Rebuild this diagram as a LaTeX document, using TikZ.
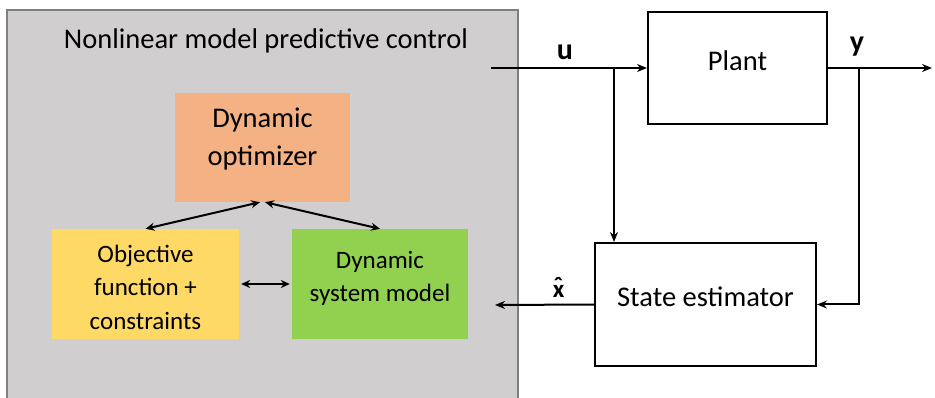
\documentclass[tikz,border=0pt]{standalone}
\usepackage{fontspec}
\setmainfont{Carlito}
\usetikzlibrary{arrows.meta,calc}
\definecolor{grayfill}{HTML}{D0CECE}
\definecolor{grayline}{HTML}{7F7F7F}
\definecolor{orangefill}{HTML}{F4B183}
\definecolor{yellowfill}{HTML}{FFD966}
\definecolor{greenfill}{HTML}{92D050}
\tikzset{
  colbox/.style={rectangle, inner sep=0pt, align=center, draw=none},
  blackbox/.style={rectangle, draw=black, line width=2pt, inner sep=0pt},
  conn/.style={line width=2pt, -{Stealth[length=10pt,width=8pt]}},
  conninner/.style={line width=2pt, {Stealth[length=9pt,width=8pt]}-{Stealth[length=9pt,width=8pt]}},
  bigtext/.style={font=\fontsize{28.5}{38}\selectfont},
  smalltext/.style={font=\fontsize{25}{33.5}\selectfont},
  sig/.style={font=\fontsize{30}{32}\selectfont\bfseries, inner sep=0pt},
  sigsmall/.style={font=\fontsize{25}{27}\selectfont\bfseries, inner sep=0pt},
}
\begin{document}
\begin{tikzpicture}[x=1pt,y=-1pt]
\useasboundingbox (0,0) rectangle (935,398);
% NMPC container
\draw[fill=grayfill, draw=grayline, line width=1.5pt] (7,10) rectangle (518,410);
\node[bigtext, inner sep=0pt] (title) at (266,41) {Nonlinear model predictive control};
% inner boxes
\node[colbox, fill=orangefill, minimum width=175pt, minimum height=109pt] (opt) at (262.5,147.5) {};
\node[bigtext, align=center, inner sep=0pt] (opttext) at (262.5,139) {Dynamic\\optimizer};
\node[colbox, fill=yellowfill, minimum width=187pt, minimum height=110pt] (obj) at (145.5,284) {};
\node[smalltext, align=center, inner sep=0pt] (objtext) at (145.5,287) {Objective\\function +\\constraints};
\node[colbox, fill=greenfill, minimum width=176pt, minimum height=110pt] (sys) at (380,284) {};
\node[smalltext, align=center, inner sep=0pt] (systext) at (380,278.5) {Dynamic\\system model};
% inner connectors
\draw[conninner] ([xshift=-2.5pt]opt.south) -- (obj.north);
\draw[conninner] ([xshift=2.5pt]opt.south) -- (sys.north);
\draw[conninner] ([xshift=2pt]obj.east) -- ([xshift=-2pt]sys.west);
% plant and estimator
\node[blackbox, minimum width=179pt, minimum height=112pt] (plant) at (737.5,68) {};
\node[bigtext, inner sep=0pt] (planttext) at (737.5,61) {Plant};
\node[blackbox, minimum width=221pt, minimum height=123pt] (est) at (705.5,304.5) {};
\node[bigtext, inner sep=0pt] (esttext) at (705.5,297) {State estimator};
% signals
\coordinate (uin) at (491,68);
\coordinate (ub) at (614,68);
\coordinate (yb) at (859,68);
\coordinate (yout) at (932,68);
\coordinate (xout) at (495,305);
\draw[conn] (uin) -- (plant.west);
\draw[conn] (ub) -- (ub |- est.north);
\draw[conn] (plant.east) -- (yout);
\draw[conn] (yb) |- (est.east);
\draw[conn] (est.west) -- (xout);
\node[sig, anchor=base] (ulab) at (565,60) {u};
\node[sig, anchor=base] (ylab) at (857,52) {y};
\node[sigsmall, anchor=base] (xlab) at (558.5,298) {\ooalign{x\cr\hidewidth\raisebox{3pt}{ˆ}\hidewidth\cr}};
\end{tikzpicture}
\end{document}
